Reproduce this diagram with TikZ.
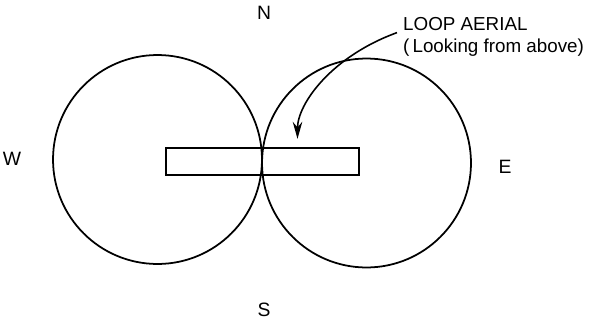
\documentclass[tikz,border=0pt]{standalone}
\usepackage{fontspec}
\setmainfont{Liberation Sans}
\usetikzlibrary{arrows.meta}

\begin{document}
\begin{tikzpicture}[
        x=0.02cm, y=-0.02cm,
        lobe/.style={circle, draw, line width=1pt, minimum size=4.18cm, inner sep=0pt},
        aerial/.style={rectangle, draw, line width=1.3pt, minimum width=3.86cm, minimum height=0.54cm, inner sep=0pt},
        point/.style={font=\fontsize{11}{13}\selectfont},
        note/.style={font=\fontsize{10.7}{12.4}\selectfont, align=left},
        arrow/.style={-{Stealth[length=3.4mm, width=1.9mm]}, line width=0.9pt}
    ]
        \useasboundingbox (0,0) rectangle (591,321);
        \node[lobe] (lw) at (157.5,159.5) {};
        \node[lobe] (le) at (366.5,163) {};
        \node[aerial] (loop) at (262.5,161.5) {};
        \node[point] (n) at (264,13) {N};
        \node[point] (s) at (264,310) {S};
        \node[point] (w) at (12,159) {W};
        \node[point] (e) at (505,167) {E};
        \node[note, anchor=north west] (lbl) at (397,11) {LOOP AERIAL\\(\,Looking from above)};
        \draw[arrow] ([yshift=0.08cm]lbl.west) .. controls +(200:1.4cm) and +(90:0.7cm) .. ([shift={(35,-8)}]loop.north);
    \end{tikzpicture}
\end{document}
